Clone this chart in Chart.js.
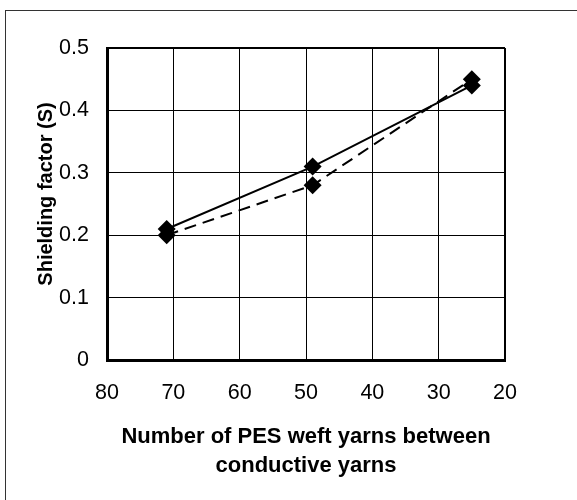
<!DOCTYPE html>
<html>
<head>
<meta charset="utf-8">
<script src="https://cdn.jsdelivr.net/npm/chart.js@4"></script>
<style>
  html, body { margin: 0; padding: 0; background: #fff; overflow: hidden; }
  #wrap { position: relative; width: 577px; height: 500px; }
  #frame { position: absolute; left: 5px; top: 10px; width: 700px; height: 700px;
           border-top: 1.5px solid #333; border-left: 1.5px solid #333; pointer-events: none; }
  canvas { position: absolute; left: 0; top: 0; }
</style>
</head>
<body>
<div id="wrap">
  <canvas id="c" width="577" height="500"></canvas>
  <div id="frame"></div>
</div>
<script>
// Data
const weftYarns = [71, 49, 25];
const seriesSolid = [0.21, 0.31, 0.44];
const seriesDashed = [0.20, 0.28, 0.45];
const xTickLabels = ['80', '70', '60', '50', '40', '30', '20'];
const yTickLabels = ['0', '0.1', '0.2', '0.3', '0.4', '0.5'];
const xTitle = ['Number of PES weft yarns between', 'conductive yarns'];
const yTitle = 'Shielding factor (S)';

const toPoints = ys => weftYarns.map((x, i) => ({ x: x, y: ys[i] }));
const FONT = '"Liberation Sans", Arial, sans-serif';

// Y-axis title drawn slightly above the plot's vertical centre, as in the reference
const yTitlePlugin = {
  id: 'yTitle',
  afterDraw(chart) {
    const ctx = chart.ctx;
    const area = chart.chartArea;
    ctx.save();
    ctx.translate(46, (area.top + area.bottom) / 2 - 10);
    ctx.rotate(-Math.PI / 2);
    ctx.font = 'bold 20px ' + FONT;
    ctx.fillStyle = '#000';
    ctx.textAlign = 'center';
    ctx.textBaseline = 'middle';
    ctx.fillText(yTitle, 0, 0);
    ctx.restore();
  }
};

new Chart(document.getElementById('c'), {
  type: 'scatter',
  data: {
    datasets: [
      {
        data: toPoints(seriesSolid),
        showLine: true,
        borderColor: '#000',
        borderWidth: 2,
        backgroundColor: '#000',
        pointStyle: 'rectRot',
        pointRadius: 9,
        pointBorderWidth: 0,
        tension: 0
      },
      {
        data: toPoints(seriesDashed),
        showLine: true,
        borderColor: '#000',
        borderWidth: 2,
        borderDash: [12, 7],
        backgroundColor: '#000',
        pointStyle: 'rectRot',
        pointRadius: 9,
        pointBorderWidth: 0,
        tension: 0
      }
    ]
  },
  plugins: [yTitlePlugin],
  options: {
    responsive: false,
    animation: false,
    devicePixelRatio: 1,
    layout: { padding: { top: 48, right: 72, left: 0, bottom: 0 } },
    plugins: { legend: { display: false }, tooltip: { enabled: false } },
    scales: {
      x: {
        type: 'linear',
        reverse: true,
        min: 20,
        max: 80,
        afterFit: s => { s.height = 140; },
        afterBuildTicks: s => { s.ticks = xTickLabels.map(t => ({ value: Number(t) })); },
        ticks: {
          color: '#000',
          font: { family: FONT, size: 21.5 },
          padding: 20,
          maxRotation: 0,
          callback: (v) => xTickLabels.find(t => Number(t) === v) || ''
        },
        grid: {
          color: '#000',
          lineWidth: ctx => (ctx.tick && ctx.tick.value === 20 ? 2 : 1),
          drawTicks: false
        },
        border: { display: true, color: '#000', width: 3 },
        title: {
          display: true,
          text: xTitle,
          color: '#000',
          font: { family: FONT, size: 22, weight: 'bold', lineHeight: '29px' },
          padding: { top: 0, bottom: 20 }
        }
      },
      y: {
        min: 0,
        max: 0.5,
        afterFit: s => { s.width = 107; },
        afterBuildTicks: s => { s.ticks = yTickLabels.map(t => ({ value: Number(t) })); },
        ticks: {
          color: '#000',
          font: { family: FONT, size: 21.5 },
          padding: 18,
          callback: (v) => yTickLabels.find(t => Math.abs(Number(t) - v) < 1e-9) || ''
        },
        grid: {
          color: '#000',
          lineWidth: ctx => (ctx.tick && Math.abs(ctx.tick.value - 0.5) < 1e-9 ? 2 : 1),
          drawTicks: false
        },
        border: { display: true, color: '#000', width: 3 },
        title: { display: false }
      }
    }
  }
});
</script>
</body>
</html>
